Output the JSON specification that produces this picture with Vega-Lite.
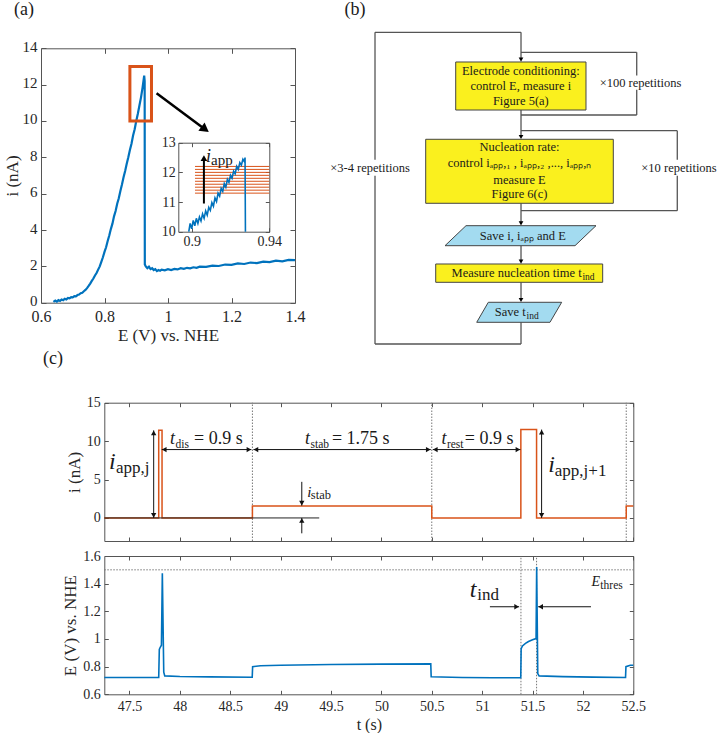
{
"$schema":"https://vega.github.io/schema/vega-lite/v6.json",
"width":719,"height":733,"autosize":{"type":"none"},"padding":0,"background":"white",
"config":{
 "view":{"stroke":null},
 "axis":{"grid":false,"labelFont":"Liberation Serif","titleFont":"Liberation Serif","labelColor":"#262626","titleColor":"#262626","domainColor":"#555555","tickColor":"#555555","domainWidth":1,"tickWidth":1,"labelFlush":false,"labelOverlap":false,"titleFontWeight":"normal"},
 "text":{"font":"Liberation Serif","color":"#1a1a1a"}
},
"datasets":{
 "panelLabels":[{"px":3.34,"py":1.36,"txt":"(a)"},{"px":49.37,"py":1.36,"txt":"(b)"},{"px":7.37,"py":48.98,"txt":"(c)"}],
 "mainA":[{"E":0.639,"i":0.05},{"E":0.645,"i":0.12},{"E":0.65,"i":0.06},{"E":0.655,"i":0.14},{"E":0.66,"i":0.1},{"E":0.665,"i":0.18},{"E":0.67,"i":0.14},{"E":0.675,"i":0.22},{"E":0.68,"i":0.18},{"E":0.685,"i":0.26},{"E":0.69,"i":0.24},{"E":0.695,"i":0.31},{"E":0.7,"i":0.29},{"E":0.705,"i":0.36},{"E":0.71,"i":0.35},{"E":0.715,"i":0.42},{"E":0.72,"i":0.45},{"E":0.725,"i":0.52},{"E":0.73,"i":0.55},{"E":0.735,"i":0.63},{"E":0.74,"i":0.7},{"E":0.745,"i":0.8},{"E":0.75,"i":0.92},{"E":0.755,"i":1.05},{"E":0.76,"i":1.2},{"E":0.765,"i":1.33},{"E":0.77,"i":1.5},{"E":0.775,"i":1.63},{"E":0.78,"i":1.82},{"E":0.785,"i":2.0},{"E":0.79,"i":2.25},{"E":0.795,"i":2.5},{"E":0.8,"i":2.8},{"E":0.805,"i":3.05},{"E":0.81,"i":3.4},{"E":0.815,"i":3.7},{"E":0.82,"i":4.05},{"E":0.825,"i":4.35},{"E":0.83,"i":4.75},{"E":0.835,"i":5.05},{"E":0.84,"i":5.45},{"E":0.845,"i":5.75},{"E":0.85,"i":6.15},{"E":0.855,"i":6.5},{"E":0.86,"i":6.9},{"E":0.865,"i":7.25},{"E":0.87,"i":7.65},{"E":0.875,"i":8.0},{"E":0.88,"i":8.4},{"E":0.885,"i":8.75},{"E":0.89,"i":9.2},{"E":0.895,"i":9.55},{"E":0.9,"i":10.0},{"E":0.905,"i":10.4},{"E":0.91,"i":10.85},{"E":0.915,"i":11.3},{"E":0.92,"i":11.85},{"E":0.925,"i":12.5},{"E":0.9265,"i":12.2},{"E":0.927,"i":2.1},{"E":0.93,"i":2.0},{"E":0.935,"i":1.9},{"E":0.94,"i":1.98},{"E":0.945,"i":1.85},{"E":0.95,"i":1.9},{"E":0.955,"i":1.8},{"E":0.96,"i":1.85},{"E":0.965,"i":1.74},{"E":0.97,"i":1.8},{"E":0.975,"i":1.76},{"E":0.98,"i":1.82},{"E":0.99,"i":1.78},{"E":1.0,"i":1.84},{"E":1.01,"i":1.8},{"E":1.02,"i":1.86},{"E":1.03,"i":1.83},{"E":1.04,"i":1.9},{"E":1.05,"i":1.86},{"E":1.06,"i":1.92},{"E":1.07,"i":1.89},{"E":1.08,"i":1.95},{"E":1.09,"i":1.92},{"E":1.1,"i":1.98},{"E":1.12,"i":1.97},{"E":1.14,"i":2.04},{"E":1.16,"i":2.02},{"E":1.18,"i":2.1},{"E":1.2,"i":2.08},{"E":1.22,"i":2.16},{"E":1.24,"i":2.13},{"E":1.26,"i":2.21},{"E":1.28,"i":2.18},{"E":1.3,"i":2.26},{"E":1.32,"i":2.23},{"E":1.34,"i":2.31},{"E":1.36,"i":2.28},{"E":1.38,"i":2.36},{"E":1.4,"i":2.34}],
 "boxA":[{"E0":0.88,"E1":0.948,"i0":10,"i1":13}],
 "arrowA":[{"E0":0.964,"E1":1.112,"i0":11.52,"i1":9.6}],
 "arrowheadA":[{"E":1.117,"i":9.54}],
 "insetA":[{"E":0.8985,"i":10.0},{"E":0.8992,"i":10.28},{"E":0.9,"i":10.1},{"E":0.9008,"i":10.38},{"E":0.9016,"i":10.2},{"E":0.9024,"i":10.45},{"E":0.9032,"i":10.28},{"E":0.904,"i":10.5},{"E":0.9048,"i":10.36},{"E":0.9056,"i":10.6},{"E":0.9064,"i":10.45},{"E":0.9072,"i":10.7},{"E":0.908,"i":10.56},{"E":0.9088,"i":10.82},{"E":0.9096,"i":10.72},{"E":0.9104,"i":10.98},{"E":0.9112,"i":10.86},{"E":0.912,"i":11.14},{"E":0.9128,"i":11.02},{"E":0.9136,"i":11.3},{"E":0.9144,"i":11.2},{"E":0.9152,"i":11.46},{"E":0.916,"i":11.36},{"E":0.9168,"i":11.62},{"E":0.9176,"i":11.5},{"E":0.9184,"i":11.76},{"E":0.9192,"i":11.66},{"E":0.92,"i":11.9},{"E":0.9208,"i":11.8},{"E":0.9216,"i":12.04},{"E":0.9224,"i":11.95},{"E":0.9232,"i":12.2},{"E":0.924,"i":12.1},{"E":0.9248,"i":12.33},{"E":0.9256,"i":12.24},{"E":0.9264,"i":12.44},{"E":0.9272,"i":12.36},{"E":0.9275,"i":12.5},{"E":0.9277,"i":10.0}],
 "insetLines":[{"E0":0.9017,"E1":0.94,"i":11.3},{"E0":0.9017,"E1":0.94,"i":11.4},{"E0":0.9017,"E1":0.94,"i":11.5},{"E0":0.9017,"E1":0.94,"i":11.6},{"E0":0.9017,"E1":0.94,"i":11.7},{"E0":0.9017,"E1":0.94,"i":11.8},{"E0":0.9017,"E1":0.94,"i":11.9},{"E0":0.9017,"E1":0.94,"i":12.0},{"E0":0.9017,"E1":0.94,"i":12.1},{"E0":0.9017,"E1":0.94,"i":12.2}],
 "insetArrow":[{"E":0.9063,"i0":10.95,"i1":12.4}],
 "insetHead":[{"E":0.9063,"i":12.48}],
 "insetI":[{"E":0.9074,"i":12.36,"txt":"i"}],
 "insetSub":[{"E":0.91,"i":12.25,"txt":"app"}],
 "flowSegs":[{"x1":44.85,"y1":8.97,"x2":4.18,"y2":8.97},{"x1":4.18,"y1":8.97,"x2":4.18,"y2":44.4},{"x1":4.18,"y1":48.8,"x2":4.18,"y2":95.56},{"x1":4.18,"y1":95.56,"x2":44.85,"y2":95.56},{"x1":44.85,"y1":8.97,"x2":44.85,"y2":16.5},{"x1":44.85,"y1":14.53,"x2":77.08,"y2":14.53},{"x1":77.08,"y1":14.53,"x2":77.08,"y2":21.0},{"x1":77.08,"y1":24.9,"x2":77.08,"y2":31.94},{"x1":77.08,"y1":31.94,"x2":44.85,"y2":31.94},{"x1":44.85,"y1":30.56,"x2":44.85,"y2":38.0},{"x1":44.85,"y1":36.31,"x2":88.38,"y2":36.31},{"x1":88.38,"y1":36.31,"x2":88.38,"y2":44.4},{"x1":88.38,"y1":48.8,"x2":88.38,"y2":58.53},{"x1":88.38,"y1":58.53,"x2":44.85,"y2":58.53},{"x1":44.85,"y1":56.47,"x2":44.85,"y2":62.0},{"x1":44.85,"y1":68.25,"x2":44.85,"y2":72.6},{"x1":44.85,"y1":78.42,"x2":44.85,"y2":83.3},{"x1":44.85,"y1":89.53,"x2":44.85,"y2":95.56}],
 "flowRects":[{"x1":26.66,"x2":62.95,"y1":17.22,"y2":30.56},{"x1":18.3,"x2":70.56,"y1":38.69,"y2":56.47},{"x1":21.09,"x2":67.6,"y1":73.33,"y2":78.42}],
 "flowParas":[{"s":"p1","y":62.69,"xl":29.53,"xr":65.74},{"s":"p1","y":68.25,"xl":23.68,"xr":59.89},{"s":"p2","y":83.97,"xl":35.74,"xr":56.18},{"s":"p2","y":89.53,"xl":32.51,"xr":52.92}],
 "flowHeads":[{"x":44.85,"y":16.57},{"x":44.85,"y":38.04},{"x":44.85,"y":62.04},{"x":44.85,"y":72.68},{"x":44.85,"y":83.32}],
 "flowText":[{"x":44.8,"y":19.8,"txt":"Electrode conditioning:"},{"x":44.8,"y":23.95,"txt":"control E, measure i"},{"x":44.8,"y":28.0,"txt":"Figure 5(a)"},{"x":44.43,"y":40.85,"txt":"Nucleation rate:"},{"x":44.43,"y":45.3,"txt":"control iₐₚₚ,₁ , iₐₚₚ,₂ ,..., iₐₚₚ,ₙ"},{"x":44.43,"y":49.9,"txt":"measure E"},{"x":44.43,"y":54.0,"txt":"Figure 6(c)"},{"x":45.35,"y":65.56,"txt":"Save i, iₐₚₚ and E"}],
 "flowTextR":[{"x":61.75,"y":75.92,"txt":"Measure nucleation time t"},{"x":46.16,"y":86.76,"txt":"Save t"}],
 "flowSub":[{"x":61.95,"y":76.9,"txt":"ind"},{"x":46.4,"y":87.7,"txt":"ind"}],
 "flowRep":[{"x":78.13,"y":22.97,"txt":"×100 repetitions"},{"x":88.86,"y":46.58,"txt":"×10 repetitions"},{"x":2.79,"y":46.58,"txt":"×3-4 repetitions"}],
 "c1i":[{"t":47.25,"i":0},{"t":47.79,"i":0},{"t":47.79,"i":11.4},{"t":47.823,"i":11.4},{"t":47.823,"i":0},{"t":48.72,"i":0},{"t":48.72,"i":1.55},{"t":50.5,"i":1.55},{"t":50.5,"i":0},{"t":51.384,"i":0},{"t":51.384,"i":11.5},{"t":51.54,"i":11.5},{"t":51.54,"i":0},{"t":52.43,"i":0},{"t":52.43,"i":1.55},{"t":52.5,"i":1.55}],
 "c1dots":[{"t":48.72,"t2":48.72,"v":-3,"v2":15},{"t":50.5,"t2":50.5,"v":-3,"v2":15},{"t":52.43,"t2":52.43,"v":-3,"v2":15}],
 "c1zero":[{"t":47.25,"t2":49.383,"v":0,"v2":0}],
 "c1segs":[{"t":47.74,"t2":47.74,"v":0,"v2":11.4},{"t":47.82,"t2":48.71,"v":8.9,"v2":8.9},{"t":48.73,"t2":50.49,"v":8.9,"v2":8.9},{"t":50.51,"t2":51.38,"v":8.9,"v2":8.9},{"t":51.59,"t2":51.59,"v":0,"v2":11.5},{"t":49.21,"t2":49.21,"v":4.7,"v2":1.6},{"t":49.21,"t2":49.21,"v":-2.0,"v2":0}],
 "c1heads":[{"t":47.74,"v":0.33,"dir":"down"},{"t":47.74,"v":11.07,"dir":"up"},{"t":47.845,"v":8.9,"dir":"left"},{"t":48.685,"v":8.9,"dir":"right"},{"t":48.755,"v":8.9,"dir":"left"},{"t":50.465,"v":8.9,"dir":"right"},{"t":50.535,"v":8.9,"dir":"left"},{"t":51.355,"v":8.9,"dir":"right"},{"t":51.59,"v":0.33,"dir":"down"},{"t":51.59,"v":11.17,"dir":"up"},{"t":49.21,"v":1.93,"dir":"down"},{"t":49.21,"v":-0.33,"dir":"up"}],
 "c1Ibig":[{"t":47.297,"v":6.35,"txt":"i"},{"t":51.655,"v":6.0,"txt":"i"}],
 "c1Isub":[{"t":47.366,"v":5.83,"txt":"app,j"},{"t":51.721,"v":5.5,"txt":"app,j+1"}],
 "c1T":[{"t":47.902,"v":9.57,"txt":"t"},{"t":49.241,"v":9.57,"txt":"t"},{"t":50.597,"v":9.57,"txt":"t"}],
 "c1Tsub":[{"t":47.956,"v":9.16,"txt":"dis"},{"t":49.296,"v":9.16,"txt":"stab"},{"t":50.65,"v":9.16,"txt":"rest"}],
 "c1Eq":[{"t":48.14,"v":9.57,"txt":"= 0.9 s"},{"t":49.509,"v":9.57,"txt":"= 1.75 s"},{"t":50.828,"v":9.57,"txt":"= 0.9 s"}],
 "c1Ist":[{"t":49.264,"v":2.74,"txt":"i"}],
 "c1IstSub":[{"t":49.3,"v":2.44,"txt":"stab"}],
 "c2E":[{"t":47.25,"E":0.722},{"t":47.5,"E":0.721},{"t":47.79,"E":0.722},{"t":47.796,"E":0.925},{"t":47.805,"E":0.94},{"t":47.817,"E":0.955},{"t":47.826,"E":1.475},{"t":47.84,"E":0.76},{"t":47.85,"E":0.733},{"t":48.0,"E":0.729},{"t":48.3,"E":0.726},{"t":48.718,"E":0.723},{"t":48.722,"E":0.8},{"t":48.8,"E":0.806},{"t":49.0,"E":0.81},{"t":49.5,"E":0.815},{"t":50.0,"E":0.818},{"t":50.49,"E":0.82},{"t":50.494,"E":0.727},{"t":50.8,"E":0.722},{"t":51.1,"E":0.72},{"t":51.383,"E":0.72},{"t":51.387,"E":0.93},{"t":51.4,"E":0.95},{"t":51.43,"E":0.968},{"t":51.46,"E":0.982},{"t":51.5,"E":0.995},{"t":51.535,"E":1.003},{"t":51.541,"E":1.52},{"t":51.552,"E":0.75},{"t":51.565,"E":0.733},{"t":51.8,"E":0.728},{"t":52.1,"E":0.724},{"t":52.423,"E":0.722},{"t":52.427,"E":0.8},{"t":52.47,"E":0.81},{"t":52.5,"E":0.81}],
 "c2dots":[{"t":51.385,"t2":51.385,"v":0.6,"v2":1.6},{"t":51.54,"t2":51.54,"v":0.6,"v2":1.6},{"t":47.25,"t2":52.5,"v":1.5,"v2":1.5}],
 "c2segs":[{"t":51.077,"t2":51.367,"v":1.233,"v2":1.233},{"t":52.08,"t2":51.556,"v":1.233,"v2":1.233}],
 "c2heads":[{"t":51.342,"v":1.233,"dir":"right"},{"t":51.581,"v":1.233,"dir":"left"}],
 "c2Tbig":[{"t":50.878,"v":1.301,"txt":"t"}],
 "c2Tsub":[{"t":50.952,"v":1.282,"txt":"ind"}],
 "c2Eth":[{"t":52.085,"v":1.383,"txt":"E"}],
 "c2EthSub":[{"t":52.173,"v":1.365,"txt":"thres"}]
},
"resolve":{"scale":{"x":"independent","y":"independent"},"axis":{"x":"independent","y":"independent"}},
"layer":[
 {"data":{"name":"panelLabels"},"mark":{"type":"text","fontSize":18,"align":"center","baseline":"middle"},
  "encoding":{"x":{"field":"px","type":"quantitative","scale":{"domain":[0,100],"range":[0,719],"nice":false,"zero":false},"axis":null},
   "y":{"field":"py","type":"quantitative","scale":{"domain":[0,100],"range":[0,733],"nice":false,"zero":false},"axis":null},
   "text":{"field":"txt"}}},
 {"resolve":{"axis":{"x":"independent","y":"independent"}},
  "layer":[
   {"data":{"name":"mainA"},"mark":{"type":"line","color":"#0072BD","strokeWidth":2.2},
    "encoding":{
     "x":{"field":"E","type":"quantitative","scale":{"domain":[0.6,1.4],"range":[41,295],"nice":false,"zero":false},
      "axis":{"orient":"bottom","offset":-430.3,"values":[0.6,0.8,1,1.2,1.4],"format":"~g","tickSize":-5,"labelPadding":11,"labelFontSize":16,"title":"E (V) vs. NHE","titleFontSize":17,"titlePadding":3}},
     "y":{"field":"i","type":"quantitative","scale":{"domain":[0,14],"range":[302.7,48.3],"nice":false,"zero":false},
      "axis":{"orient":"left","offset":-41,"values":[0,2,4,6,8,10,12,14],"tickSize":-5,"labelPadding":9,"labelOffset":-2,"labelFontSize":15,"title":"i (nA)","titleFontSize":17,"titlePadding":1}},
     "order":{"value":null}}},
   {"data":{"name":"boxA"},"mark":{"type":"rect","filled":false,"color":"#D95319","strokeWidth":3},
    "encoding":{
     "x":{"field":"E0","type":"quantitative","axis":{"orient":"top","offset":-48.3,"values":[0.6,0.8,1,1.2,1.4],"tickSize":-5,"labels":false,"title":null}},
     "x2":{"field":"E1"},
     "y":{"field":"i0","type":"quantitative","axis":{"orient":"right","offset":-424,"values":[0,2,4,6,8,10,12,14],"tickSize":-5,"labels":false,"title":null}},
     "y2":{"field":"i1"}}},
   {"data":{"name":"arrowA"},"mark":{"type":"rule","color":"#000000","strokeWidth":2.5},
    "encoding":{"x":{"field":"E0","type":"quantitative","axis":null},"x2":{"field":"E1"},"y":{"field":"i0","type":"quantitative","axis":null},"y2":{"field":"i1"}}},
   {"data":{"name":"arrowheadA"},"mark":{"type":"point","shape":"triangle-right","filled":true,"color":"#000000","size":110,"angle":36.6,"opacity":1},
    "encoding":{"x":{"field":"E","type":"quantitative","axis":null},"y":{"field":"i","type":"quantitative","axis":null}}}
  ]},
 {"resolve":{"axis":{"x":"independent","y":"independent"}},
  "layer":[
   {"data":{"name":"insetLines"},"mark":{"type":"rule","color":"#D95319","strokeWidth":1},
    "encoding":{
     "x":{"field":"E0","type":"quantitative","scale":{"domain":[0.8931,0.94],"range":[178.3,269.3],"nice":false,"zero":false},
      "axis":{"orient":"top","offset":-142.7,"values":[0.9,0.94],"tickSize":-4,"labels":false,"title":null}},
     "x2":{"field":"E1"},
     "y":{"field":"i","type":"quantitative","scale":{"domain":[10,13],"range":[231.7,142.7],"nice":false,"zero":false},
      "axis":{"orient":"right","offset":-449.7,"values":[10,11,12,13],"tickSize":-4,"labels":false,"title":null}}}},
   {"data":{"name":"insetA"},"mark":{"type":"line","color":"#0072BD","strokeWidth":1.6},
    "encoding":{
     "x":{"field":"E","type":"quantitative","axis":{"orient":"bottom","offset":-501.3,"values":[0.9,0.94],"format":"~g","tickSize":-4,"labelPadding":7,"labelFontSize":14,"title":null}},
     "y":{"field":"i","type":"quantitative","axis":{"orient":"left","offset":-178.3,"values":[10,11,12,13],"tickSize":-4,"labelPadding":7,"labelFontSize":14,"title":null}},
     "order":{"value":null}}},
   {"data":{"name":"insetArrow"},"mark":{"type":"rule","color":"#000000","strokeWidth":2},
    "encoding":{"x":{"field":"E","type":"quantitative","axis":null},"y":{"field":"i0","type":"quantitative","axis":null},"y2":{"field":"i1"}}},
   {"data":{"name":"insetHead"},"mark":{"type":"point","shape":"triangle-up","filled":true,"color":"#000000","size":45,"opacity":1},
    "encoding":{"x":{"field":"E","type":"quantitative","axis":null},"y":{"field":"i","type":"quantitative","axis":null}}},
   {"data":{"name":"insetI"},"mark":{"type":"text","fontSize":18,"fontStyle":"italic","align":"left","baseline":"alphabetic"},
    "encoding":{"x":{"field":"E","type":"quantitative","axis":null},"y":{"field":"i","type":"quantitative","axis":null},"text":{"field":"txt"}}},
   {"data":{"name":"insetSub"},"mark":{"type":"text","fontSize":15,"align":"left","baseline":"alphabetic"},
    "encoding":{"x":{"field":"E","type":"quantitative","axis":null},"y":{"field":"i","type":"quantitative","axis":null},"text":{"field":"txt"}}}
  ]},
 {"layer":[
   {"data":{"name":"flowSegs"},"mark":{"type":"rule","color":"#555555","strokeWidth":1.3},
    "encoding":{"x":{"field":"x1","type":"quantitative","scale":{"domain":[0,100],"range":[360,719],"nice":false,"zero":false},"axis":null},"x2":{"field":"x2"},
     "y":{"field":"y1","type":"quantitative","scale":{"domain":[0,100],"range":[0,360],"nice":false,"zero":false},"axis":null},"y2":{"field":"y2"}}},
   {"data":{"name":"flowRects"},"mark":{"type":"rect","fill":"#faf01e","stroke":"#444444","strokeWidth":1},
    "encoding":{"x":{"field":"x1","type":"quantitative","axis":null},"x2":{"field":"x2"},"y":{"field":"y1","type":"quantitative","axis":null},"y2":{"field":"y2"}}},
   {"data":{"name":"flowParas"},"mark":{"type":"area","orient":"horizontal","fill":"#a3dbf0","stroke":"#444444","strokeWidth":1,"opacity":1},
    "encoding":{"y":{"field":"y","type":"quantitative","axis":null},"x":{"field":"xl","type":"quantitative","axis":null},"x2":{"field":"xr"},"detail":{"field":"s"}}},
   {"data":{"name":"flowHeads"},"mark":{"type":"point","shape":"triangle-down","filled":true,"color":"#000000","size":22,"opacity":1},
    "encoding":{"x":{"field":"x","type":"quantitative","axis":null},"y":{"field":"y","type":"quantitative","axis":null}}},
   {"data":{"name":"flowText"},"mark":{"type":"text","fontSize":12.5,"align":"center","baseline":"middle"},
    "encoding":{"x":{"field":"x","type":"quantitative","axis":null},"y":{"field":"y","type":"quantitative","axis":null},"text":{"field":"txt"}}},
   {"data":{"name":"flowTextR"},"mark":{"type":"text","fontSize":12.5,"align":"right","baseline":"middle"},
    "encoding":{"x":{"field":"x","type":"quantitative","axis":null},"y":{"field":"y","type":"quantitative","axis":null},"text":{"field":"txt"}}},
   {"data":{"name":"flowSub"},"mark":{"type":"text","fontSize":9.5,"align":"left","baseline":"middle"},
    "encoding":{"x":{"field":"x","type":"quantitative","axis":null},"y":{"field":"y","type":"quantitative","axis":null},"text":{"field":"txt"}}},
   {"data":{"name":"flowRep"},"mark":{"type":"text","fontSize":12.5,"align":"center","baseline":"middle"},
    "encoding":{"x":{"field":"x","type":"quantitative","axis":null},"y":{"field":"y","type":"quantitative","axis":null},"text":{"field":"txt"}}}
  ]},
 {"resolve":{"axis":{"x":"independent","y":"independent"}},
  "layer":[
   {"data":{"name":"c1dots"},"mark":{"type":"rule","color":"#777777","strokeWidth":1,"strokeDash":[1.5,1.5]},
    "encoding":{
     "x":{"field":"t","type":"quantitative","scale":{"domain":[47.25,52.5],"range":[104.3,633.3],"nice":false,"zero":false},
      "axis":{"orient":"top","offset":-402.7,"values":[47.5,48,48.5,49,49.5,50,50.5,51,51.5,52,52.5],"tickSize":-4,"labels":false,"title":null}},
     "x2":{"field":"t2"},
     "y":{"field":"v","type":"quantitative","scale":{"domain":[-3,15],"range":[541,402.7],"nice":false,"zero":false},
      "axis":{"orient":"right","offset":-85.7,"values":[0,5,10,15],"tickSize":-4,"labels":false,"title":null}},
     "y2":{"field":"v2"}}},
   {"data":{"name":"c1i"},"mark":{"type":"line","color":"#D95319","strokeWidth":1.5},
    "encoding":{
     "x":{"field":"t","type":"quantitative","axis":{"orient":"bottom","offset":-192,"values":[47.5,48,48.5,49,49.5,50,50.5,51,51.5,52,52.5],"tickSize":-4,"labels":false,"title":null}},
     "y":{"field":"i","type":"quantitative","axis":{"orient":"left","offset":-104.3,"values":[0,5,10,15],"tickSize":-4,"labelPadding":8,"labelFontSize":14,"title":"i (nA)","titleFontSize":17,"titlePadding":3}},
     "order":{"value":null}}},
   {"data":{"name":"c1zero"},"mark":{"type":"rule","color":"#222222","strokeWidth":1},
    "encoding":{"x":{"field":"t","type":"quantitative","axis":null},"x2":{"field":"t2"},"y":{"field":"v","type":"quantitative","axis":null},"y2":{"field":"v2"}}},
   {"data":{"name":"c1segs"},"mark":{"type":"rule","color":"#111111","strokeWidth":1},
    "encoding":{"x":{"field":"t","type":"quantitative","axis":null},"x2":{"field":"t2"},"y":{"field":"v","type":"quantitative","axis":null},"y2":{"field":"v2"}}},
   {"data":{"name":"c1heads"},"mark":{"type":"point","filled":true,"color":"#111111","size":28,"opacity":1},
    "encoding":{"x":{"field":"t","type":"quantitative","axis":null},"y":{"field":"v","type":"quantitative","axis":null},
     "shape":{"field":"dir","type":"nominal","scale":{"domain":["up","down","left","right"],"range":["triangle-up","triangle-down","triangle-left","triangle-right"]},"legend":null}}},
   {"data":{"name":"c1Ibig"},"mark":{"type":"text","fontSize":24,"fontStyle":"italic","align":"left","baseline":"alphabetic"},
    "encoding":{"x":{"field":"t","type":"quantitative","axis":null},"y":{"field":"v","type":"quantitative","axis":null},"text":{"field":"txt"}}},
   {"data":{"name":"c1Isub"},"mark":{"type":"text","fontSize":17,"align":"left","baseline":"alphabetic"},
    "encoding":{"x":{"field":"t","type":"quantitative","axis":null},"y":{"field":"v","type":"quantitative","axis":null},"text":{"field":"txt"}}},
   {"data":{"name":"c1T"},"mark":{"type":"text","fontSize":18,"fontStyle":"italic","align":"left","baseline":"alphabetic"},
    "encoding":{"x":{"field":"t","type":"quantitative","axis":null},"y":{"field":"v","type":"quantitative","axis":null},"text":{"field":"txt"}}},
   {"data":{"name":"c1Tsub"},"mark":{"type":"text","fontSize":11.5,"align":"left","baseline":"alphabetic"},
    "encoding":{"x":{"field":"t","type":"quantitative","axis":null},"y":{"field":"v","type":"quantitative","axis":null},"text":{"field":"txt"}}},
   {"data":{"name":"c1Eq"},"mark":{"type":"text","fontSize":18,"align":"left","baseline":"alphabetic"},
    "encoding":{"x":{"field":"t","type":"quantitative","axis":null},"y":{"field":"v","type":"quantitative","axis":null},"text":{"field":"txt"}}},
   {"data":{"name":"c1Ist"},"mark":{"type":"text","fontSize":15,"fontStyle":"italic","align":"left","baseline":"alphabetic"},
    "encoding":{"x":{"field":"t","type":"quantitative","axis":null},"y":{"field":"v","type":"quantitative","axis":null},"text":{"field":"txt"}}},
   {"data":{"name":"c1IstSub"},"mark":{"type":"text","fontSize":12.5,"align":"left","baseline":"alphabetic"},
    "encoding":{"x":{"field":"t","type":"quantitative","axis":null},"y":{"field":"v","type":"quantitative","axis":null},"text":{"field":"txt"}}}
  ]},
 {"resolve":{"axis":{"x":"independent","y":"independent"}},
  "layer":[
   {"data":{"name":"c2dots"},"mark":{"type":"rule","color":"#777777","strokeWidth":1,"strokeDash":[1.5,1.5]},
    "encoding":{
     "x":{"field":"t","type":"quantitative","scale":{"domain":[47.25,52.5],"range":[104.3,633.3],"nice":false,"zero":false},
      "axis":{"orient":"top","offset":-556,"values":[47.5,48,48.5,49,49.5,50,50.5,51,51.5,52,52.5],"tickSize":-4,"labels":false,"title":null}},
     "x2":{"field":"t2"},
     "y":{"field":"v","type":"quantitative","scale":{"domain":[0.6,1.6],"range":[694.3,556],"nice":false,"zero":false},
      "axis":{"orient":"right","offset":-85.7,"values":[0.6,0.8,1,1.2,1.4,1.6],"tickSize":-4,"labels":false,"title":null}},
     "y2":{"field":"v2"}}},
   {"data":{"name":"c2E"},"mark":{"type":"line","color":"#0072BD","strokeWidth":1.6},
    "encoding":{
     "x":{"field":"t","type":"quantitative","axis":{"orient":"bottom","offset":-38.7,"values":[47.5,48,48.5,49,49.5,50,50.5,51,51.5,52,52.5],"format":"~g","tickSize":-4,"labelPadding":9,"labelFontSize":14,"title":"t (s)","titleFontSize":16,"titlePadding":3}},
     "y":{"field":"E","type":"quantitative","axis":{"orient":"left","offset":-104.3,"values":[0.6,0.8,1,1.2,1.4,1.6],"format":"~g","tickSize":-4,"labelPadding":8,"labelFontSize":14,"title":"E (V) vs. NHE","titleFontSize":17,"titlePadding":3}},
     "order":{"value":null}}},
   {"data":{"name":"c2segs"},"mark":{"type":"rule","color":"#111111","strokeWidth":1},
    "encoding":{"x":{"field":"t","type":"quantitative","axis":null},"x2":{"field":"t2"},"y":{"field":"v","type":"quantitative","axis":null},"y2":{"field":"v2"}}},
   {"data":{"name":"c2heads"},"mark":{"type":"point","filled":true,"color":"#111111","size":28,"opacity":1},
    "encoding":{"x":{"field":"t","type":"quantitative","axis":null},"y":{"field":"v","type":"quantitative","axis":null},
     "shape":{"field":"dir","type":"nominal","scale":{"domain":["up","down","left","right"],"range":["triangle-up","triangle-down","triangle-left","triangle-right"]},"legend":null}}},
   {"data":{"name":"c2Tbig"},"mark":{"type":"text","fontSize":24,"fontStyle":"italic","align":"left","baseline":"alphabetic"},
    "encoding":{"x":{"field":"t","type":"quantitative","axis":null},"y":{"field":"v","type":"quantitative","axis":null},"text":{"field":"txt"}}},
   {"data":{"name":"c2Tsub"},"mark":{"type":"text","fontSize":17,"align":"left","baseline":"alphabetic"},
    "encoding":{"x":{"field":"t","type":"quantitative","axis":null},"y":{"field":"v","type":"quantitative","axis":null},"text":{"field":"txt"}}},
   {"data":{"name":"c2Eth"},"mark":{"type":"text","fontSize":14,"fontStyle":"italic","align":"left","baseline":"alphabetic"},
    "encoding":{"x":{"field":"t","type":"quantitative","axis":null},"y":{"field":"v","type":"quantitative","axis":null},"text":{"field":"txt"}}},
   {"data":{"name":"c2EthSub"},"mark":{"type":"text","fontSize":11.5,"align":"left","baseline":"alphabetic"},
    "encoding":{"x":{"field":"t","type":"quantitative","axis":null},"y":{"field":"v","type":"quantitative","axis":null},"text":{"field":"txt"}}}
  ]}
]
}
